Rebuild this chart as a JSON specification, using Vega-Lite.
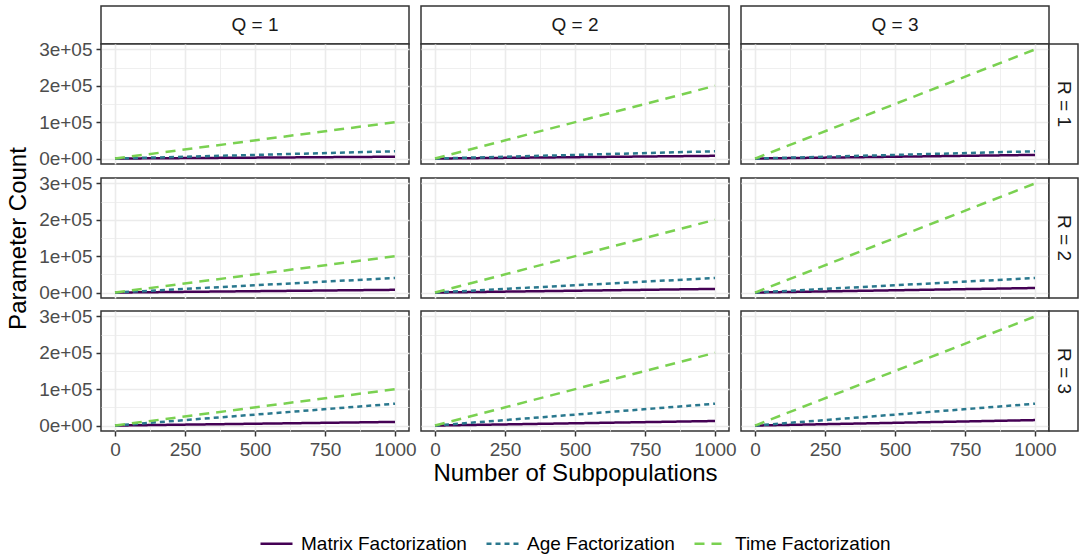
{
"$schema": "https://vega.github.io/schema/vega-lite/v6.json",
"padding": {"left": 5, "top": 5, "right": 0, "bottom": 5},
"background": "white",
"data": {"values": [
{"Q":1,"R":1,"series":"Matrix Factorization","N":0,"count":0},{"Q":1,"R":1,"series":"Matrix Factorization","N":1000,"count":5000},
{"Q":1,"R":1,"series":"Age Factorization","N":0,"count":0},{"Q":1,"R":1,"series":"Age Factorization","N":1000,"count":20000},
{"Q":1,"R":1,"series":"Time Factorization","N":0,"count":0},{"Q":1,"R":1,"series":"Time Factorization","N":1000,"count":100000},
{"Q":1,"R":2,"series":"Matrix Factorization","N":0,"count":0},{"Q":1,"R":2,"series":"Matrix Factorization","N":1000,"count":7500},
{"Q":1,"R":2,"series":"Age Factorization","N":0,"count":0},{"Q":1,"R":2,"series":"Age Factorization","N":1000,"count":40000},
{"Q":1,"R":2,"series":"Time Factorization","N":0,"count":0},{"Q":1,"R":2,"series":"Time Factorization","N":1000,"count":100000},
{"Q":1,"R":3,"series":"Matrix Factorization","N":0,"count":0},{"Q":1,"R":3,"series":"Matrix Factorization","N":1000,"count":10000},
{"Q":1,"R":3,"series":"Age Factorization","N":0,"count":0},{"Q":1,"R":3,"series":"Age Factorization","N":1000,"count":60000},
{"Q":1,"R":3,"series":"Time Factorization","N":0,"count":0},{"Q":1,"R":3,"series":"Time Factorization","N":1000,"count":100000},
{"Q":2,"R":1,"series":"Matrix Factorization","N":0,"count":0},{"Q":2,"R":1,"series":"Matrix Factorization","N":1000,"count":7500},
{"Q":2,"R":1,"series":"Age Factorization","N":0,"count":0},{"Q":2,"R":1,"series":"Age Factorization","N":1000,"count":20000},
{"Q":2,"R":1,"series":"Time Factorization","N":0,"count":0},{"Q":2,"R":1,"series":"Time Factorization","N":1000,"count":200000},
{"Q":2,"R":2,"series":"Matrix Factorization","N":0,"count":0},{"Q":2,"R":2,"series":"Matrix Factorization","N":1000,"count":10000},
{"Q":2,"R":2,"series":"Age Factorization","N":0,"count":0},{"Q":2,"R":2,"series":"Age Factorization","N":1000,"count":40000},
{"Q":2,"R":2,"series":"Time Factorization","N":0,"count":0},{"Q":2,"R":2,"series":"Time Factorization","N":1000,"count":200000},
{"Q":2,"R":3,"series":"Matrix Factorization","N":0,"count":0},{"Q":2,"R":3,"series":"Matrix Factorization","N":1000,"count":12500},
{"Q":2,"R":3,"series":"Age Factorization","N":0,"count":0},{"Q":2,"R":3,"series":"Age Factorization","N":1000,"count":60000},
{"Q":2,"R":3,"series":"Time Factorization","N":0,"count":0},{"Q":2,"R":3,"series":"Time Factorization","N":1000,"count":200000},
{"Q":3,"R":1,"series":"Matrix Factorization","N":0,"count":0},{"Q":3,"R":1,"series":"Matrix Factorization","N":1000,"count":10000},
{"Q":3,"R":1,"series":"Age Factorization","N":0,"count":0},{"Q":3,"R":1,"series":"Age Factorization","N":1000,"count":20000},
{"Q":3,"R":1,"series":"Time Factorization","N":0,"count":0},{"Q":3,"R":1,"series":"Time Factorization","N":1000,"count":300000},
{"Q":3,"R":2,"series":"Matrix Factorization","N":0,"count":0},{"Q":3,"R":2,"series":"Matrix Factorization","N":1000,"count":12500},
{"Q":3,"R":2,"series":"Age Factorization","N":0,"count":0},{"Q":3,"R":2,"series":"Age Factorization","N":1000,"count":40000},
{"Q":3,"R":2,"series":"Time Factorization","N":0,"count":0},{"Q":3,"R":2,"series":"Time Factorization","N":1000,"count":300000},
{"Q":3,"R":3,"series":"Matrix Factorization","N":0,"count":0},{"Q":3,"R":3,"series":"Matrix Factorization","N":1000,"count":15000},
{"Q":3,"R":3,"series":"Age Factorization","N":0,"count":0},{"Q":3,"R":3,"series":"Age Factorization","N":1000,"count":60000},
{"Q":3,"R":3,"series":"Time Factorization","N":0,"count":0},{"Q":3,"R":3,"series":"Time Factorization","N":1000,"count":300000}
]},
"config": {
 "font": "Liberation Sans",
 "view": {"stroke": "#333333", "strokeWidth": 1.5, "fill": "white"},
 "axis": {"domain": false, "gridColor": "#EBEBEB", "tickColor": "#333333", "tickSize": 5, "tickWidth": 1.5, "labelColor": "#4D4D4D", "labelFontSize": 19, "labelFont": "Liberation Sans", "titleFont": "Liberation Sans", "titleFontSize": 24, "titleFontWeight": "normal", "titleColor": "black", "labelPadding": 4, "labelFlush": false, "labelOverlap": false},
 "axisX": {"titlePadding": 2},
 "axisY": {"titlePadding": 8},
 "legend": {"title": null, "orient": "none", "legendX": 158, "legendY": 520, "direction": "horizontal", "symbolType": "stroke", "symbolSize": 1024, "symbolStrokeWidth": 2.5, "labelFontSize": 19, "labelFont": "Liberation Sans", "labelColor": "black", "labelLimit": 400, "columnPadding": 14, "labelOffset": 7}
},
"columns": 6,
"spacing": 0,
"bounds": "flush",
"align": "each",
"concat": [
 {"width": 308, "height": 38, "data": {"values": [{"lab": "Q = 1"}]}, "mark": {"type": "text", "fontSize": 19, "color": "#1A1A1A"}, "encoding": {"text": {"field": "lab"}, "x": {"datum": 0.5, "type": "quantitative", "scale": {"domain": [0, 1]}, "axis": null}, "y": {"datum": 0.5, "type": "quantitative", "scale": {"domain": [0, 1]}, "axis": null}}},
 {"width": 12, "height": 1, "data": {"values": []}, "mark": "text", "view": {"stroke": null, "fill": null}},
 {"width": 308, "height": 38, "data": {"values": [{"lab": "Q = 2"}]}, "mark": {"type": "text", "fontSize": 19, "color": "#1A1A1A"}, "encoding": {"text": {"field": "lab"}, "x": {"datum": 0.5, "type": "quantitative", "scale": {"domain": [0, 1]}, "axis": null}, "y": {"datum": 0.5, "type": "quantitative", "scale": {"domain": [0, 1]}, "axis": null}}},
 {"width": 12, "height": 1, "data": {"values": []}, "mark": "text", "view": {"stroke": null, "fill": null}},
 {"width": 308, "height": 38, "data": {"values": [{"lab": "Q = 3"}]}, "mark": {"type": "text", "fontSize": 19, "color": "#1A1A1A"}, "encoding": {"text": {"field": "lab"}, "x": {"datum": 0.5, "type": "quantitative", "scale": {"domain": [0, 1]}, "axis": null}, "y": {"datum": 0.5, "type": "quantitative", "scale": {"domain": [0, 1]}, "axis": null}}},
 {"width": 1, "height": 1, "data": {"values": []}, "mark": "text", "view": {"stroke": null, "fill": null}},

 {"width": 308, "height": 120, "transform": [{"filter": "datum.Q == 1 && datum.R == 1"}], "mark": {"type": "line", "strokeWidth": 2.5},
  "encoding": {
   "x": {"field": "N", "type": "quantitative", "scale": {"domain": [-50, 1050], "nice": false, "zero": false}, "axis": {"values": [0,125,250,375,500,625,750,875,1000], "labels": false, "ticks": false, "title": null, "gridWidth": {"condition": {"test": "datum.value % 250 === 0", "value": 1.6}, "value": 0.8}}},
   "y": {"field": "count", "type": "quantitative", "scale": {"domain": [-15000, 315000], "nice": false, "zero": false}, "axis": {"values": [0,50000,100000,150000,200000,250000,300000], "title": null, "labelExpr": "datum.value % 100000 === 0 ? (datum.value === 0 ? '0e+00' : (datum.value/100000) + 'e+05') : ''", "tickOpacity": {"condition": {"test": "datum.value % 100000 === 0", "value": 1}, "value": 0}, "gridWidth": {"condition": {"test": "datum.value % 100000 === 0", "value": 1.6}, "value": 0.8}}},
   "color": {"field": "series", "type": "nominal", "scale": {"domain": ["Matrix Factorization", "Age Factorization", "Time Factorization"], "range": ["#440154", "#2A788E", "#7AD151"]}, "legend": {"title": null}},
   "strokeDash": {"field": "series", "type": "nominal", "scale": {"domain": ["Matrix Factorization", "Age Factorization", "Time Factorization"], "range": [[1, 0], [5, 4], [10, 7]]}, "legend": {"title": null}}
  }},
 {"width": 1, "height": 1, "data": {"values": []}, "mark": "text", "view": {"stroke": null, "fill": null}},
 {"width": 308, "height": 120, "transform": [{"filter": "datum.Q == 2 && datum.R == 1"}], "mark": {"type": "line", "strokeWidth": 2.5},
  "encoding": {
   "x": {"field": "N", "type": "quantitative", "scale": {"domain": [-50, 1050], "nice": false, "zero": false}, "axis": {"values": [0,125,250,375,500,625,750,875,1000], "labels": false, "ticks": false, "title": null, "gridWidth": {"condition": {"test": "datum.value % 250 === 0", "value": 1.6}, "value": 0.8}}},
   "y": {"field": "count", "type": "quantitative", "scale": {"domain": [-15000, 315000], "nice": false, "zero": false}, "axis": {"values": [0,50000,100000,150000,200000,250000,300000], "labels": false, "ticks": false, "title": null, "gridWidth": {"condition": {"test": "datum.value % 100000 === 0", "value": 1.6}, "value": 0.8}}},
   "color": {"field": "series", "type": "nominal", "scale": {"domain": ["Matrix Factorization", "Age Factorization", "Time Factorization"], "range": ["#440154", "#2A788E", "#7AD151"]}, "legend": {"title": null}},
   "strokeDash": {"field": "series", "type": "nominal", "scale": {"domain": ["Matrix Factorization", "Age Factorization", "Time Factorization"], "range": [[1, 0], [5, 4], [10, 7]]}, "legend": {"title": null}}
  }},
 {"width": 1, "height": 1, "data": {"values": []}, "mark": "text", "view": {"stroke": null, "fill": null}},
 {"width": 308, "height": 120, "transform": [{"filter": "datum.Q == 3 && datum.R == 1"}], "mark": {"type": "line", "strokeWidth": 2.5},
  "encoding": {
   "x": {"field": "N", "type": "quantitative", "scale": {"domain": [-50, 1050], "nice": false, "zero": false}, "axis": {"values": [0,125,250,375,500,625,750,875,1000], "labels": false, "ticks": false, "title": null, "gridWidth": {"condition": {"test": "datum.value % 250 === 0", "value": 1.6}, "value": 0.8}}},
   "y": {"field": "count", "type": "quantitative", "scale": {"domain": [-15000, 315000], "nice": false, "zero": false}, "axis": {"values": [0,50000,100000,150000,200000,250000,300000], "labels": false, "ticks": false, "title": null, "gridWidth": {"condition": {"test": "datum.value % 100000 === 0", "value": 1.6}, "value": 0.8}}},
   "color": {"field": "series", "type": "nominal", "scale": {"domain": ["Matrix Factorization", "Age Factorization", "Time Factorization"], "range": ["#440154", "#2A788E", "#7AD151"]}, "legend": {"title": null}},
   "strokeDash": {"field": "series", "type": "nominal", "scale": {"domain": ["Matrix Factorization", "Age Factorization", "Time Factorization"], "range": [[1, 0], [5, 4], [10, 7]]}, "legend": {"title": null}}
  }},
 {"width": 29, "height": 120, "data": {"values": [{"lab": "R = 1"}]}, "mark": {"type": "text", "fontSize": 19, "color": "#1A1A1A", "angle": 90}, "encoding": {"text": {"field": "lab"}, "x": {"datum": 0.5, "type": "quantitative", "scale": {"domain": [0, 1]}, "axis": null}, "y": {"datum": 0.5, "type": "quantitative", "scale": {"domain": [0, 1]}, "axis": null}}},

 {"width": 1, "height": 14, "data": {"values": []}, "mark": "text", "view": {"stroke": null, "fill": null}},
 {"width": 1, "height": 1, "data": {"values": []}, "mark": "text", "view": {"stroke": null, "fill": null}},
 {"width": 1, "height": 1, "data": {"values": []}, "mark": "text", "view": {"stroke": null, "fill": null}},
 {"width": 1, "height": 1, "data": {"values": []}, "mark": "text", "view": {"stroke": null, "fill": null}},
 {"width": 1, "height": 1, "data": {"values": []}, "mark": "text", "view": {"stroke": null, "fill": null}},
 {"width": 1, "height": 1, "data": {"values": []}, "mark": "text", "view": {"stroke": null, "fill": null}},

 {"width": 308, "height": 120, "transform": [{"filter": "datum.Q == 1 && datum.R == 2"}], "mark": {"type": "line", "strokeWidth": 2.5},
  "encoding": {
   "x": {"field": "N", "type": "quantitative", "scale": {"domain": [-50, 1050], "nice": false, "zero": false}, "axis": {"values": [0,125,250,375,500,625,750,875,1000], "labels": false, "ticks": false, "title": null, "gridWidth": {"condition": {"test": "datum.value % 250 === 0", "value": 1.6}, "value": 0.8}}},
   "y": {"field": "count", "type": "quantitative", "scale": {"domain": [-15000, 315000], "nice": false, "zero": false}, "axis": {"values": [0,50000,100000,150000,200000,250000,300000], "title": "Parameter Count", "labelExpr": "datum.value % 100000 === 0 ? (datum.value === 0 ? '0e+00' : (datum.value/100000) + 'e+05') : ''", "tickOpacity": {"condition": {"test": "datum.value % 100000 === 0", "value": 1}, "value": 0}, "gridWidth": {"condition": {"test": "datum.value % 100000 === 0", "value": 1.6}, "value": 0.8}}},
   "color": {"field": "series", "type": "nominal", "scale": {"domain": ["Matrix Factorization", "Age Factorization", "Time Factorization"], "range": ["#440154", "#2A788E", "#7AD151"]}, "legend": {"title": null}},
   "strokeDash": {"field": "series", "type": "nominal", "scale": {"domain": ["Matrix Factorization", "Age Factorization", "Time Factorization"], "range": [[1, 0], [5, 4], [10, 7]]}, "legend": {"title": null}}
  }},
 {"width": 1, "height": 1, "data": {"values": []}, "mark": "text", "view": {"stroke": null, "fill": null}},
 {"width": 308, "height": 120, "transform": [{"filter": "datum.Q == 2 && datum.R == 2"}], "mark": {"type": "line", "strokeWidth": 2.5},
  "encoding": {
   "x": {"field": "N", "type": "quantitative", "scale": {"domain": [-50, 1050], "nice": false, "zero": false}, "axis": {"values": [0,125,250,375,500,625,750,875,1000], "labels": false, "ticks": false, "title": null, "gridWidth": {"condition": {"test": "datum.value % 250 === 0", "value": 1.6}, "value": 0.8}}},
   "y": {"field": "count", "type": "quantitative", "scale": {"domain": [-15000, 315000], "nice": false, "zero": false}, "axis": {"values": [0,50000,100000,150000,200000,250000,300000], "labels": false, "ticks": false, "title": null, "gridWidth": {"condition": {"test": "datum.value % 100000 === 0", "value": 1.6}, "value": 0.8}}},
   "color": {"field": "series", "type": "nominal", "scale": {"domain": ["Matrix Factorization", "Age Factorization", "Time Factorization"], "range": ["#440154", "#2A788E", "#7AD151"]}, "legend": {"title": null}},
   "strokeDash": {"field": "series", "type": "nominal", "scale": {"domain": ["Matrix Factorization", "Age Factorization", "Time Factorization"], "range": [[1, 0], [5, 4], [10, 7]]}, "legend": {"title": null}}
  }},
 {"width": 1, "height": 1, "data": {"values": []}, "mark": "text", "view": {"stroke": null, "fill": null}},
 {"width": 308, "height": 120, "transform": [{"filter": "datum.Q == 3 && datum.R == 2"}], "mark": {"type": "line", "strokeWidth": 2.5},
  "encoding": {
   "x": {"field": "N", "type": "quantitative", "scale": {"domain": [-50, 1050], "nice": false, "zero": false}, "axis": {"values": [0,125,250,375,500,625,750,875,1000], "labels": false, "ticks": false, "title": null, "gridWidth": {"condition": {"test": "datum.value % 250 === 0", "value": 1.6}, "value": 0.8}}},
   "y": {"field": "count", "type": "quantitative", "scale": {"domain": [-15000, 315000], "nice": false, "zero": false}, "axis": {"values": [0,50000,100000,150000,200000,250000,300000], "labels": false, "ticks": false, "title": null, "gridWidth": {"condition": {"test": "datum.value % 100000 === 0", "value": 1.6}, "value": 0.8}}},
   "color": {"field": "series", "type": "nominal", "scale": {"domain": ["Matrix Factorization", "Age Factorization", "Time Factorization"], "range": ["#440154", "#2A788E", "#7AD151"]}, "legend": {"title": null}},
   "strokeDash": {"field": "series", "type": "nominal", "scale": {"domain": ["Matrix Factorization", "Age Factorization", "Time Factorization"], "range": [[1, 0], [5, 4], [10, 7]]}, "legend": {"title": null}}
  }},
 {"width": 29, "height": 120, "data": {"values": [{"lab": "R = 2"}]}, "mark": {"type": "text", "fontSize": 19, "color": "#1A1A1A", "angle": 90}, "encoding": {"text": {"field": "lab"}, "x": {"datum": 0.5, "type": "quantitative", "scale": {"domain": [0, 1]}, "axis": null}, "y": {"datum": 0.5, "type": "quantitative", "scale": {"domain": [0, 1]}, "axis": null}}},

 {"width": 1, "height": 13, "data": {"values": []}, "mark": "text", "view": {"stroke": null, "fill": null}},
 {"width": 1, "height": 1, "data": {"values": []}, "mark": "text", "view": {"stroke": null, "fill": null}},
 {"width": 1, "height": 1, "data": {"values": []}, "mark": "text", "view": {"stroke": null, "fill": null}},
 {"width": 1, "height": 1, "data": {"values": []}, "mark": "text", "view": {"stroke": null, "fill": null}},
 {"width": 1, "height": 1, "data": {"values": []}, "mark": "text", "view": {"stroke": null, "fill": null}},
 {"width": 1, "height": 1, "data": {"values": []}, "mark": "text", "view": {"stroke": null, "fill": null}},

 {"width": 308, "height": 120, "transform": [{"filter": "datum.Q == 1 && datum.R == 3"}], "mark": {"type": "line", "strokeWidth": 2.5},
  "encoding": {
   "x": {"field": "N", "type": "quantitative", "scale": {"domain": [-50, 1050], "nice": false, "zero": false}, "axis": {"values": [0,125,250,375,500,625,750,875,1000], "title": null, "labelExpr": "datum.value % 250 === 0 ? format(datum.value, 'd') : ''", "tickOpacity": {"condition": {"test": "datum.value % 250 === 0", "value": 1}, "value": 0}, "gridWidth": {"condition": {"test": "datum.value % 250 === 0", "value": 1.6}, "value": 0.8}}},
   "y": {"field": "count", "type": "quantitative", "scale": {"domain": [-15000, 315000], "nice": false, "zero": false}, "axis": {"values": [0,50000,100000,150000,200000,250000,300000], "title": null, "labelExpr": "datum.value % 100000 === 0 ? (datum.value === 0 ? '0e+00' : (datum.value/100000) + 'e+05') : ''", "tickOpacity": {"condition": {"test": "datum.value % 100000 === 0", "value": 1}, "value": 0}, "gridWidth": {"condition": {"test": "datum.value % 100000 === 0", "value": 1.6}, "value": 0.8}}},
   "color": {"field": "series", "type": "nominal", "scale": {"domain": ["Matrix Factorization", "Age Factorization", "Time Factorization"], "range": ["#440154", "#2A788E", "#7AD151"]}, "legend": {"title": null}},
   "strokeDash": {"field": "series", "type": "nominal", "scale": {"domain": ["Matrix Factorization", "Age Factorization", "Time Factorization"], "range": [[1, 0], [5, 4], [10, 7]]}, "legend": {"title": null}}
  }},
 {"width": 1, "height": 1, "data": {"values": []}, "mark": "text", "view": {"stroke": null, "fill": null}},
 {"width": 308, "height": 120, "transform": [{"filter": "datum.Q == 2 && datum.R == 3"}], "mark": {"type": "line", "strokeWidth": 2.5},
  "encoding": {
   "x": {"field": "N", "type": "quantitative", "scale": {"domain": [-50, 1050], "nice": false, "zero": false}, "axis": {"values": [0,125,250,375,500,625,750,875,1000], "title": "Number of Subpopulations", "labelExpr": "datum.value % 250 === 0 ? format(datum.value, 'd') : ''", "tickOpacity": {"condition": {"test": "datum.value % 250 === 0", "value": 1}, "value": 0}, "gridWidth": {"condition": {"test": "datum.value % 250 === 0", "value": 1.6}, "value": 0.8}}},
   "y": {"field": "count", "type": "quantitative", "scale": {"domain": [-15000, 315000], "nice": false, "zero": false}, "axis": {"values": [0,50000,100000,150000,200000,250000,300000], "labels": false, "ticks": false, "title": null, "gridWidth": {"condition": {"test": "datum.value % 100000 === 0", "value": 1.6}, "value": 0.8}}},
   "color": {"field": "series", "type": "nominal", "scale": {"domain": ["Matrix Factorization", "Age Factorization", "Time Factorization"], "range": ["#440154", "#2A788E", "#7AD151"]}, "legend": {"title": null}},
   "strokeDash": {"field": "series", "type": "nominal", "scale": {"domain": ["Matrix Factorization", "Age Factorization", "Time Factorization"], "range": [[1, 0], [5, 4], [10, 7]]}, "legend": {"title": null}}
  }},
 {"width": 1, "height": 1, "data": {"values": []}, "mark": "text", "view": {"stroke": null, "fill": null}},
 {"width": 308, "height": 120, "transform": [{"filter": "datum.Q == 3 && datum.R == 3"}], "mark": {"type": "line", "strokeWidth": 2.5},
  "encoding": {
   "x": {"field": "N", "type": "quantitative", "scale": {"domain": [-50, 1050], "nice": false, "zero": false}, "axis": {"values": [0,125,250,375,500,625,750,875,1000], "title": null, "labelExpr": "datum.value % 250 === 0 ? format(datum.value, 'd') : ''", "tickOpacity": {"condition": {"test": "datum.value % 250 === 0", "value": 1}, "value": 0}, "gridWidth": {"condition": {"test": "datum.value % 250 === 0", "value": 1.6}, "value": 0.8}}},
   "y": {"field": "count", "type": "quantitative", "scale": {"domain": [-15000, 315000], "nice": false, "zero": false}, "axis": {"values": [0,50000,100000,150000,200000,250000,300000], "labels": false, "ticks": false, "title": null, "gridWidth": {"condition": {"test": "datum.value % 100000 === 0", "value": 1.6}, "value": 0.8}}},
   "color": {"field": "series", "type": "nominal", "scale": {"domain": ["Matrix Factorization", "Age Factorization", "Time Factorization"], "range": ["#440154", "#2A788E", "#7AD151"]}, "legend": {"title": null}},
   "strokeDash": {"field": "series", "type": "nominal", "scale": {"domain": ["Matrix Factorization", "Age Factorization", "Time Factorization"], "range": [[1, 0], [5, 4], [10, 7]]}, "legend": {"title": null}}
  }},
 {"width": 29, "height": 120, "data": {"values": [{"lab": "R = 3"}]}, "mark": {"type": "text", "fontSize": 19, "color": "#1A1A1A", "angle": 90}, "encoding": {"text": {"field": "lab"}, "x": {"datum": 0.5, "type": "quantitative", "scale": {"domain": [0, 1]}, "axis": null}, "y": {"datum": 0.5, "type": "quantitative", "scale": {"domain": [0, 1]}, "axis": null}}}
]
}
